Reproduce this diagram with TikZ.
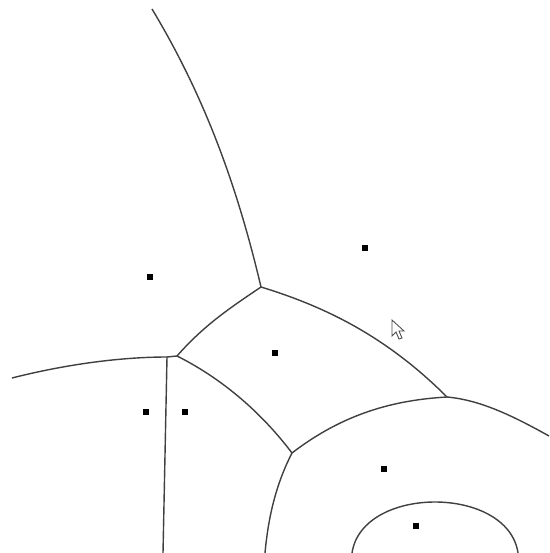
\documentclass[tikz,border=0pt]{standalone}
\usepackage{tikz}
\usetikzlibrary{positioning, calc}
\usepackage{xcolor}

\begin{document}
\begin{tikzpicture}[
    x=0.02cm, y=-0.02cm,
    site/.style={rectangle, fill=black, minimum size=0.11cm, inner sep=0pt},
    cellwall/.style={draw=black!75, line width=0.8pt},
    pointer/.style={draw=black!70, fill=white, line width=0.5pt, line join=miter}
]

\useasboundingbox (0,0) rectangle (549,553);

% sites
\node[site] (sA) at (150,277) {};
\node[site] (sB) at (365,248) {};
\node[site] (sC) at (275,353) {};
\node[site] (sD) at (146,412) {};
\node[site] (sE) at (185,412) {};
\node[site] (sF) at (384,469) {};
\node[site] (sG) at (416,526) {};

% cell corners and open ends
\coordinate (top) at (152,9);
\coordinate (j1) at (261,287);
\coordinate (j2) at (177,356);
\coordinate (j2l) at (167,357);
\coordinate (j3) at (292,453);
\coordinate (j4) at (447,397);
\coordinate (lend) at (12,378);
\coordinate (rend) at (549,436);
\coordinate (bot1) at (163,553);
\coordinate (bot2) at (265,553);
\coordinate (g1) at (352,553);
\coordinate (g2) at (518,553);

\draw[cellwall] (top) .. controls (208,102) and (239,194) .. (j1);
\draw[cellwall] (j1) .. controls (323,306) and (385,335) .. (j4);
\draw[cellwall] (j1) .. controls (233,306) and (205,324) .. (j2);
\draw[cellwall] (lend) .. controls (67,364) and (122,357) .. (j2l) -- (j2);
\draw[cellwall] (j2l) -- (bot1);
\draw[cellwall] (j2) .. controls (217,376) and (258,408) .. (j3);
\draw[cellwall] (j3) .. controls (344,413) and (395,400) .. (j4);
\draw[cellwall] (j4) .. controls (481,400) and (515,417) .. (rend);
\draw[cellwall] (j3) .. controls (275,486) and (268,520) .. (bot2);
\draw[cellwall] (g1) .. controls (362,485) and (508,485) .. (g2);

% mouse pointer
\coordinate (tip) at (392,320);
\draw[pointer] (tip) -- ++(0,16) -- ++(4,-4) -- ++(3,7) -- ++(3,-1) -- ++(-3,-7) -- ++(5,0) -- cycle;

\end{tikzpicture}
\end{document}
